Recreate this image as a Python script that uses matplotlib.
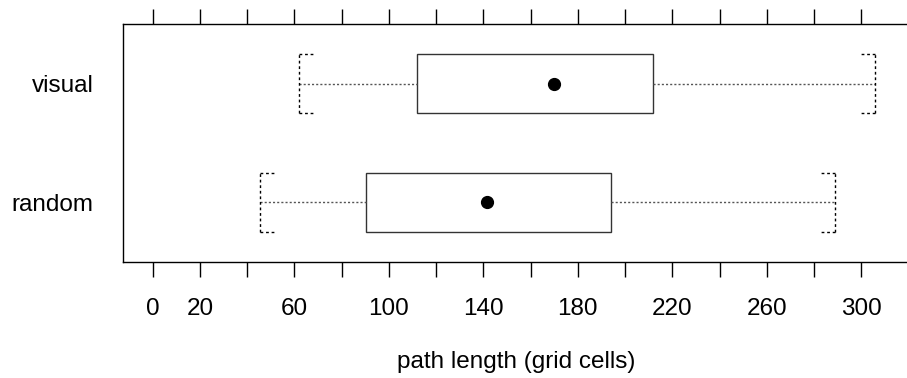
import numpy as np
import matplotlib
matplotlib.use("Agg")
import matplotlib.pyplot as plt

plt.rcParams["font.family"] = ["Liberation Sans", "DejaVu Sans"]

# Five-number summaries of path length per search strategy
groups = ["random", "visual"]
whisker_lo = [45.4, 61.8]
q1 = [90.2, 111.8]
median = [141.4, 170.1]
q3 = [193.9, 212.0]
whisker_hi = [289.1, 305.7]

tick_pos = np.arange(0, 301, 20)
label_pos = [0, 20, 60, 100, 140, 180, 220, 260, 300]

fig = plt.figure(figsize=(9.07, 3.78), dpi=100)
ax = fig.add_axes([0.1356, 0.3069, 0.866, 0.6296])

half = 0.25
cap = 6.8
for i, g in enumerate(groups):
    y = i + 1
    # box
    ax.add_patch(plt.Rectangle((q1[i], y - half), q3[i] - q1[i], 2 * half,
                               fill=False, edgecolor="#333333", linewidth=1.0))
    # whiskers
    ax.plot([whisker_lo[i], q1[i]], [y, y], color="#555555", lw=1.0, ls=(0, (1.5, 1.5)))
    ax.plot([q3[i], whisker_hi[i]], [y, y], color="#555555", lw=1.0, ls=(0, (1.5, 1.5)))
    # staples
    for x, d in [(whisker_lo[i], cap), (whisker_hi[i], -cap)]:
        ax.plot([x, x], [y - half, y + half], color="black", lw=1.0, ls=(0, (2, 2)))
        ax.plot([x, x + d], [y - half, y - half], color="black", lw=1.0, ls=(0, (2, 2)))
        ax.plot([x, x + d], [y + half, y + half], color="black", lw=1.0, ls=(0, (2, 2)))
    ax.plot(median[i], y, "o", color="black", markersize=8.5)

ax.set_xlim(-12.6, 320)
ax.set_ylim(0.5, 2.5)

ax.set_xticks(tick_pos)
ax.set_xticklabels([str(t) if t in label_pos else "" for t in tick_pos])
ax.tick_params(axis="x", which="both", direction="out", length=11, width=1.0,
               top=True, labeltop=False, labelsize=17.5, pad=15)
ax.set_yticks([1, 2])
ax.set_yticklabels(groups)
ax.tick_params(axis="y", length=0, labelsize=17.5, pad=21)
ax.set_xlabel("path length (grid cells)", fontsize=17.5, labelpad=22)

for s in ax.spines.values():
    s.set_linewidth(1.0)

fig.savefig("out.png", dpi=100)
